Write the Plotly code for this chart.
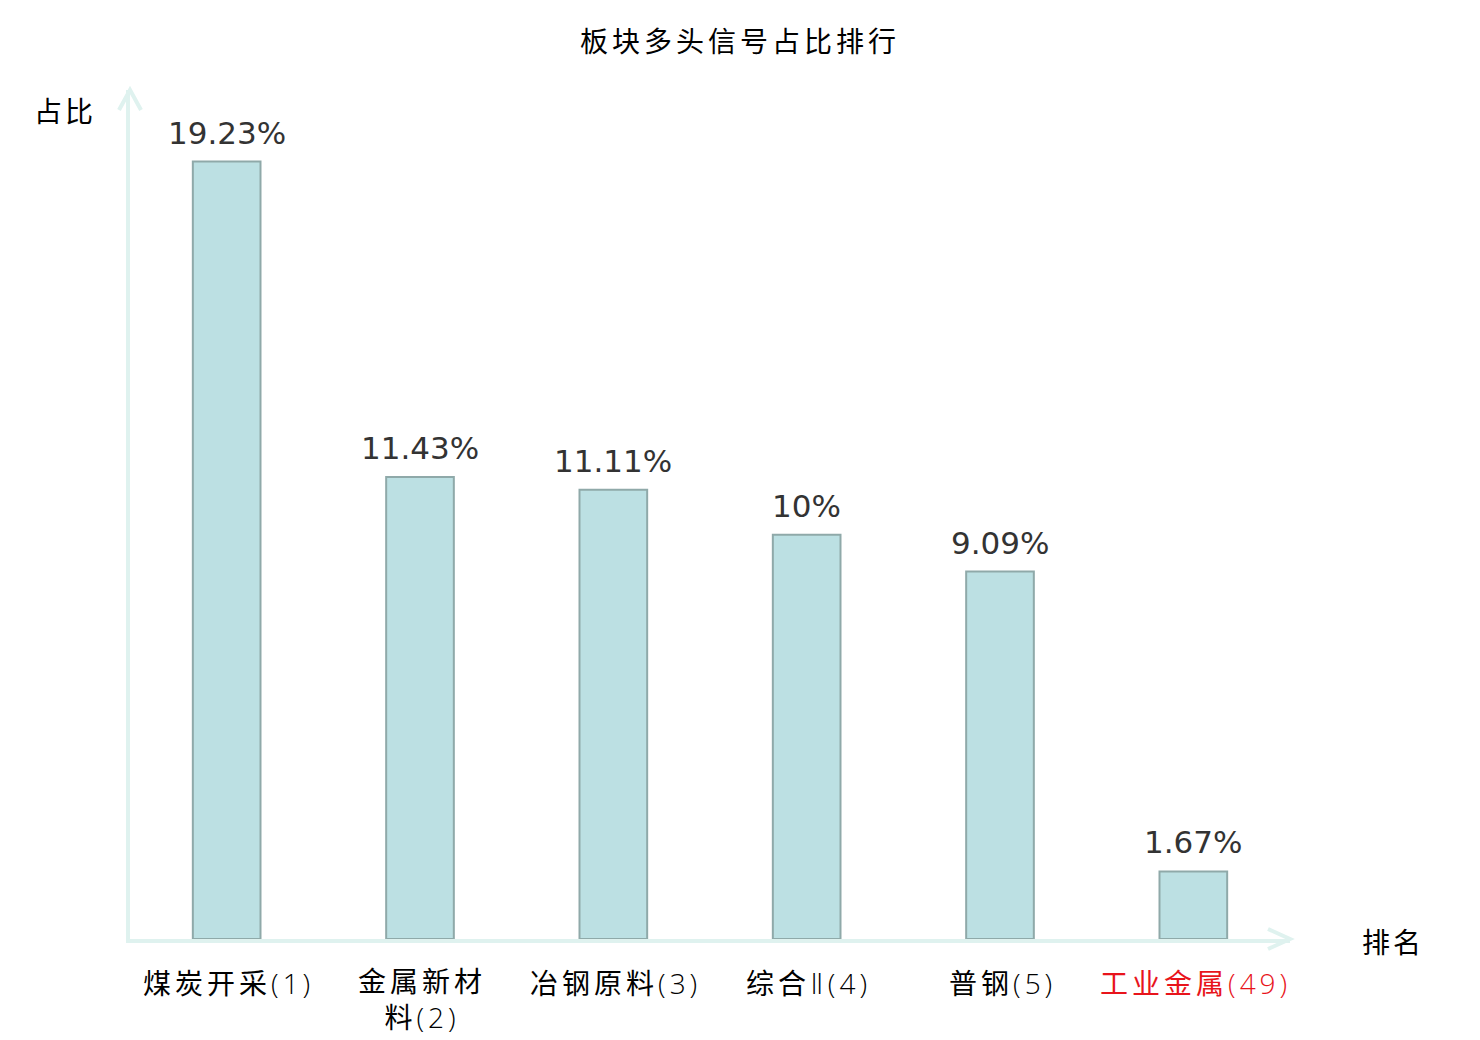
import plotly.graph_objects as go

categories = ["煤炭开采(1)", "金属新材<br>料(2)", "冶钢原料(3)", "综合Ⅱ(4)", "普钢(5)", "工业金属(49)"]
values = [19.23, 11.43, 11.11, 10, 9.09, 1.67]
highlight = [False, False, False, False, False, True]
y_range = [0, 21]

W, H = 1480, 1040
ML, MT = 130, 90
MR = W - 1290
MB = H - 939
PW, PH = W - ML - MR, H - MT - MB

AXIS_COLOR = "#dff2ef"
CJK = "Noto Sans CJK SC"
LABEL_FONT = "Open Sans, DejaVu Sans, Noto Sans CJK SC"
LABEL_SIZE = 28


def px2paper(px, py):
    return (px - ML) / PW, (H - MB - py) / PH


def is_cjk(ch):
    return ord(ch) >= 0x2E80


def styled_line(text, spacing):
    """Wrap runs of CJK (regular weight) and Latin (light weight) with letter spacing."""
    out, run, run_cjk = [], "", None
    for ch in list(text) + [None]:
        c = is_cjk(ch) if ch is not None else None
        if run and c != run_cjk:
            w = 400 if run_cjk else 300
            out.append(f'<span style="font-weight:{w};letter-spacing:{spacing}px">{run}</span>')
            run = ""
        if ch is not None:
            run += ch
        run_cjk = c
    return "".join(out)


def styled(text, spacing):
    return "<br>".join(styled_line(t, spacing) for t in text.split("<br>"))


fig = go.Figure()
fig.add_trace(go.Bar(
    x=list(range(len(categories))),
    y=values,
    width=0.35,
    marker=dict(color="#bce0e3", line=dict(color="#8fa9a9", width=2)),
    hoverinfo="skip",
))

for i, v in enumerate(values):
    fig.add_annotation(x=i, y=v, text=f"{v:g}%", showarrow=False, xanchor="center", yanchor="bottom",
                       yshift=9, font=dict(family="DejaVu Sans", size=31, color="#333333"))

# category labels below the axis
_, ly0 = px2paper(0, 983)
line_px = 1.3 * LABEL_SIZE
for i, (c, h) in enumerate(zip(categories, highlight)):
    n = len(c.split("<br>"))
    fig.add_annotation(x=i, y=ly0, xref="x", yref="paper", text=styled(c, 4),
                       showarrow=False, xanchor="center", yanchor="middle", xshift=2,
                       yshift=-(n - 1) * (line_px / 2 - 2),
                       font=dict(family=LABEL_FONT, size=LABEL_SIZE,
                                 color="#e8141b" if h else "#000000"))

# arrow heads
x1, y1 = px2paper(1268, 929)
x2, y2 = px2paper(1290, 939)
x3, y3 = px2paper(1268, 949)
fig.add_shape(type="path", xref="paper", yref="paper",
              path=f"M {x1} {y1} L {x2} {y2} L {x3} {y3}",
              line=dict(color=AXIS_COLOR, width=4))
a1, b1 = px2paper(119, 110)
a2, b2 = px2paper(130, 90)
a3, b3 = px2paper(141, 110)
fig.add_shape(type="path", xref="paper", yref="paper",
              path=f"M {a1} {b1} L {a2} {b2} L {a3} {b3}",
              line=dict(color=AXIS_COLOR, width=4))

ax, ay = px2paper(63, 110)
fig.add_annotation(x=ax, y=ay, xref="paper", yref="paper", text=styled("占比", 3), showarrow=False,
                   xanchor="center", yanchor="middle", xshift=1.5,
                   font=dict(family=CJK, size=28, color="#000000"))
bx, by = px2paper(1391, 941)
fig.add_annotation(x=bx, y=by, xref="paper", yref="paper", text=styled("排名", 3), showarrow=False,
                   xanchor="center", yanchor="middle", xshift=1.5,
                   font=dict(family=CJK, size=28, color="#000000"))

fig.update_layout(
    width=W, height=H,
    margin=dict(l=ML, r=MR, t=MT, b=MB),
    paper_bgcolor="white", plot_bgcolor="white",
    showlegend=False,
    title=dict(text=styled("板块多头信号占比排行", 4), x=0.5, xref="container", xanchor="center",
               y=1 - 42 / H, yanchor="middle",
               font=dict(family=CJK, size=28, color="#000000")),
    xaxis=dict(
        range=[-0.5, len(categories) - 0.5],
        showticklabels=False,
        showline=True, linecolor=AXIS_COLOR, linewidth=4,
        showgrid=False, zeroline=False, ticks="",
    ),
    yaxis=dict(
        range=y_range, showline=True, linecolor=AXIS_COLOR, linewidth=4,
        showgrid=False, zeroline=False, showticklabels=False, ticks="",
    ),
)

fig.write_html("out.html", config={"displayModeBar": False},
               post_script="document.body.style.margin='0px';")
